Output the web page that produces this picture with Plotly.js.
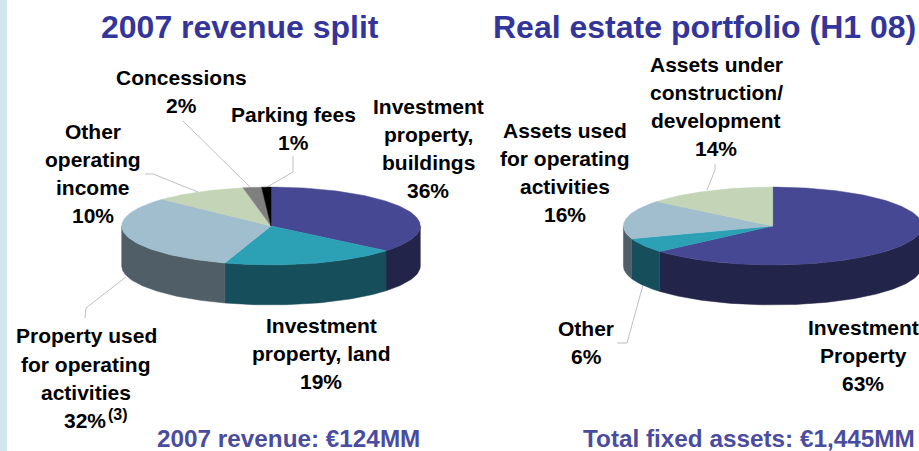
<!DOCTYPE html>
<html><head><meta charset="utf-8">
<script src="https://cdn.plot.ly/plotly-3.0.1.min.js"></script>
<style>html,body{margin:0;padding:0;background:#fff}#c{width:919px;height:451px}</style>
</head><body><div id="c"></div>
<script>
// ---- data
const revenueCategories = ['Investment property, buildings','Investment property, land','Property used for operating activities','Other operating income','Concessions','Parking fees'];
const revenueValues = [36,19,32,10,2,1];
const portfolioCategories = ['Investment Property','Other','Assets used for operating activities','Assets under construction/ development'];
const portfolioValues = [63,6,16,14];
const revenueTop = ['#464893','#2CA1B6','#A0BECE','#C3D4B7','#7F7F7F','#000000'];
const revenueSide = ['#232449','#164F5B','#505F67','#616A5B','#404040','#000000'];
const portfolioTop = ['#464893','#2CA1B6','#A0BECE','#C3D4B7'];
const portfolioSide = ['#232449','#164F5B','#505F67','#616A5B'];

// ---- geometry of the tilted discs
const RX = 149.3, RY = 38.9, DEPTH = 40;
function px(c,t){return c.cx + RX*Math.sin(t);}
function py(c,t){return c.cy - RY*Math.cos(t);}
function arc(a,b){const n=Math.max(2,Math.ceil((b-a)/0.02));const o=[];for(let i=0;i<=n;i++)o.push(a+(b-a)*i/n);return o;}

function pieTraces(values,names,top,side,c){
  const total = values.reduce((s,v)=>s+v,0);
  const sides=[],tops=[];
  let acc=0;
  values.forEach((v,i)=>{
    const a=acc/total*2*Math.PI; acc+=v; const b=acc/total*2*Math.PI;
    const as=Math.max(a,Math.PI/2), bs=Math.min(b,Math.PI*1.5);
    if(bs>as){
      const ts=arc(as,bs);
      const x=ts.map(t=>px(c,t)).concat(ts.slice().reverse().map(t=>px(c,t)));
      const y=ts.map(t=>py(c,t)).concat(ts.slice().reverse().map(t=>py(c,t)+DEPTH));
      x.push(x[0]);y.push(y[0]);
      sides.push({type:'scatter',mode:'lines',x,y,fill:'toself',fillcolor:side[i],line:{color:side[i],width:0.5},hoverinfo:'skip',name:names[i]});
    }
    const ts=arc(a,b);
    const x=[c.cx].concat(ts.map(t=>px(c,t)),[c.cx]);
    const y=[c.cy].concat(ts.map(t=>py(c,t)),[c.cy]);
    tops.push({type:'scatter',mode:'lines',x,y,fill:'toself',fillcolor:top[i],line:{color:top[i],width:0.5},hoverinfo:'skip',name:names[i]});
  });
  return sides.concat(tops);
}

const traces = pieTraces(revenueValues,revenueCategories,revenueTop,revenueSide,{cx:271,cy:226})
  .concat(pieTraces(portfolioValues,portfolioCategories,portfolioTop,portfolioSide,{cx:772.7,cy:226}));

// ---- text
const FONT='"Liberation Sans", Arial, sans-serif';
const BLUE='#34359A', FOOT='#4A4C9F';
function T(text,x,y,size,color){return {text,x,y,xref:'x',yref:'y',showarrow:false,xanchor:'center',yanchor:'middle',font:{family:FONT,size,color},bgcolor:'rgba(0,0,0,0)',borderpad:0};}
const L=21;
const annotations=[
 T('<b>2007 revenue split</b>',240,27,32,BLUE),
 T('<b>Real estate portfolio (H1 08)</b>',704,27,32,BLUE),
 T('<b>Concessions</b>',181,77,L,'#000'),T('<b>2%</b>',181,105,L,'#000'),
 T('<b>Parking fees</b>',293,114,L,'#000'),T('<b>1%</b>',293,142,L,'#000'),
 T('<b>Other</b>',93,131,L,'#000'),T('<b>operating</b>',93,159,L,'#000'),T('<b>income</b>',93,187,L,'#000'),T('<b>10%</b>',93,215,L,'#000'),
 T('<b>Investment</b>',428,106,L,'#000'),T('<b>property,</b>',428,134,L,'#000'),T('<b>buildings</b>',428,162,L,'#000'),T('<b>36%</b>',428,190,L,'#000'),
 T('<b>Investment</b>',321,325,L,'#000'),T('<b>property, land</b>',321,353,L,'#000'),T('<b>19%</b>',321,381,L,'#000'),
 T('<b>Property used</b>',86,335,L,'#000'),T('<b>for operating</b>',86,364,L,'#000'),T('<b>activities</b>',86,392,L,'#000'),T('<b>32%</b>',85,420,L,'#000'),
 T('<b>(3)</b>',118,414,16,'#000'),
 T('<b>Assets under</b>',716,64,L,'#000'),T('<b>construction/</b>',716,92,L,'#000'),T('<b>development</b>',716,120,L,'#000'),T('<b>14%</b>',716,148,L,'#000'),
 T('<b>Assets used</b>',565,130,L,'#000'),T('<b>for operating</b>',565,158,L,'#000'),T('<b>activities</b>',565,186,L,'#000'),T('<b>16%</b>',565,214,L,'#000'),
 T('<b>Other</b>',586,328,L,'#000'),T('<b>6%</b>',586,356,L,'#000'),
 T('<b>Investment</b>',863,327,L,'#000'),T('<b>Property</b>',863,355,L,'#000'),T('<b>63%</b>',863,383,L,'#000'),
 T('<b>2007 revenue: €124MM</b>',288.5,438.5,24.3,FOOT),
 T('<b>Total fixed assets: €1,445MM</b>',749,438.5,24.3,FOOT)
];

function leader(d){return {type:'path',xref:'x',yref:'y',path:d,line:{color:'#BFBFBF',width:1},layer:'below'};}
const shapes=[
 {type:'rect',xref:'x',yref:'y',x0:0,x1:7,y0:0,y1:451,fillcolor:'#D2E7ED',line:{width:0},layer:'below'},
 leader('M183,121 L250,187'),
 leader('M293,156 L293,172 L267,187'),
 leader('M145,174 L153,174 L198,192'),
 leader('M85,318 L86,308 L126,277'),
 leader('M715,164 L715,170 L707,190'),
 leader('M643,285 L627,343 L617,343')
];

Plotly.newPlot('c',traces,{
  width:919,height:451,margin:{l:0,r:0,t:0,b:0},
  paper_bgcolor:'#fff',plot_bgcolor:'#fff',showlegend:false,
  xaxis:{range:[0,919],visible:false,fixedrange:true},
  yaxis:{range:[451,0],visible:false,fixedrange:true},
  annotations,shapes
},{displayModeBar:false,staticPlot:true});
</script></body></html>
